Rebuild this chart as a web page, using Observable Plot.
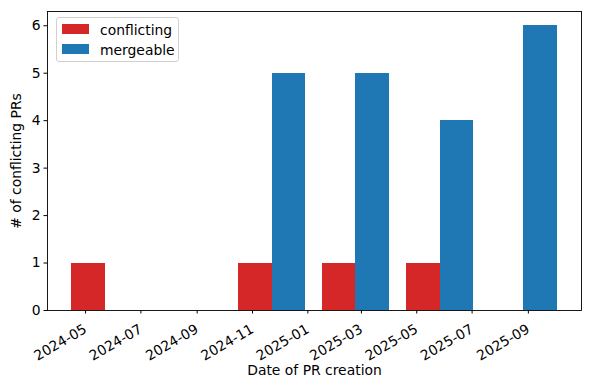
<!DOCTYPE html>
<html>
<head>
<meta charset="utf-8">
<script src="https://cdn.jsdelivr.net/npm/d3@7"></script>
<script src="https://cdn.jsdelivr.net/npm/@observablehq/plot@0.6"></script>
<style>
  html, body { margin: 0; padding: 0; background: white; }
  #wrap { position: relative; width: 590px; height: 390px; font-family: "DejaVu Sans", sans-serif; }
  #legend { position: absolute; left: 56px; top: 17px; width: 123px; height: 45px; box-sizing: border-box;
            border: 1px solid #d0d0d0; border-radius: 3px; background: rgba(255,255,255,0.8); font-size: 13.9px; }
  .item { position: absolute; left: 0; height: 16px; }
  .sw { position: absolute; left: 5px; width: 27px; height: 10px; }
  .lab { position: absolute; left: 43px; white-space: nowrap; line-height: 16px; }
</style>
</head>
<body>
<div id="wrap"></div>
<script>
// Data
const conflictDates = ["2024-05-01", "2024-11-01", "2025-02-01", "2025-05-05"];
const conflictCounts = [1, 1, 1, 1];
const mergeDates = ["2024-11-01", "2025-02-01", "2025-05-05", "2025-08-05"];
const mergeCounts = [5, 5, 4, 6];
const seriesNames = ["conflicting", "mergeable"];
const seriesColors = ["#d62728", "#1f77b4"];
const xTickLabels = ["2024-05", "2024-07", "2024-09", "2024-11", "2025-01", "2025-03", "2025-05", "2025-07", "2025-09"];
const yTicks = [0, 1, 2, 3, 4, 5, 6];
const barDays = 37;

const parse = d3.utcParse("%Y-%m-%d");
const red = conflictDates.map((d, i) => {
  const c = parse(d);
  return {x1: d3.utcHour.offset(c, -barDays * 12), x2: d3.utcHour.offset(c, barDays * 12), v: conflictCounts[i]};
});
const blue = mergeDates.map((d, i) => {
  const c = parse(d);
  return {x1: d3.utcHour.offset(c, barDays * 12), x2: d3.utcHour.offset(c, barDays * 36), v: mergeCounts[i]};
});
const all = red.concat(blue);
const xmin = d3.min(all, d => +d.x1), xmax = d3.max(all, d => +d.x2);
const pad = (xmax - xmin) * 0.05;
const xTicks = xTickLabels.map(s => d3.utcParse("%Y-%m")(s));

const chart = Plot.plot({
  width: 590, height: 390,
  marginLeft: 47, marginRight: 9, marginTop: 11, marginBottom: 80,
  style: {fontFamily: "DejaVu Sans", fontSize: "13.9px", color: "black", background: "white", overflow: "visible"},
  x: {type: "utc", domain: [new Date(xmin - pad), new Date(xmax + pad)]},
  y: {domain: [0, 6.3]},
  marks: [
    Plot.rectY(red, {x1: "x1", x2: "x2", y: "v", fill: seriesColors[0], shapeRendering: "crispEdges"}),
    Plot.rectY(blue, {x1: "x1", x2: "x2", y: "v", fill: seriesColors[1], shapeRendering: "crispEdges"}),
    Plot.frame({stroke: "black", strokeWidth: 0.9}),
    Plot.axisX({ticks: xTicks, tickFormat: d3.utcFormat("%Y-%m"), tickRotate: -30, tickSize: 3.5, tickPadding: 14,
      dx: -3, label: null}),
    Plot.axisX({ticks: [], label: "Date of PR creation", labelAnchor: "center", labelArrow: "none", labelOffset: 64}),
    Plot.axisY({ticks: yTicks, tickFormat: d3.format("d"), tickSize: 3.5, tickPadding: 3.5,
      label: "# of conflicting PRs", labelAnchor: "center", labelArrow: "none", labelOffset: 36})
  ]
});
const wrap = document.getElementById("wrap");
wrap.appendChild(chart);

const legend = document.createElement("div");
legend.id = "legend";
seriesNames.forEach((n, i) => {
  const it = document.createElement("div");
  it.className = "item";
  it.style.top = (i === 0 ? 4 : 24) + "px";
  it.style.width = "100%";
  const sw = document.createElement("div");
  sw.className = "sw"; sw.style.background = seriesColors[i]; sw.style.top = "2px";
  const lab = document.createElement("div");
  lab.className = "lab"; lab.textContent = n;
  it.appendChild(sw); it.appendChild(lab);
  legend.appendChild(it);
});
wrap.appendChild(legend);
</script>
</body>
</html>
